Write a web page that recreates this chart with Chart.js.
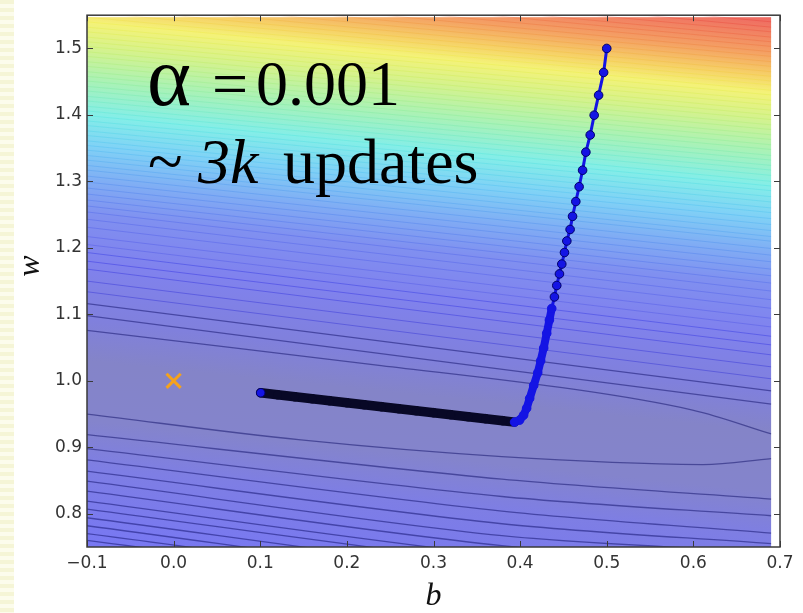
<!DOCTYPE html>
<html>
<head>
<meta charset="utf-8">
<script src="https://cdn.jsdelivr.net/npm/chart.js@4.4.0/dist/chart.umd.min.js"></script>
<style>
  html, body { margin: 0; padding: 0; background: #fff; }
  #wrap { position: relative; width: 803px; height: 613px; }
  #strip { position: absolute; left: 0; top: 0; width: 14px; height: 613px;
    background: repeating-linear-gradient(to bottom, #f5f5d6 0px, #f5f5d6 4px, #fcfcec 4px, #fcfcec 8px); }
  canvas { position: absolute; left: 0; top: 0; }
</style>
</head>
<body>
<div id="wrap"><div id="strip"></div><canvas id="myChart" width="803" height="613"></canvas></div>
<script>
// axes
const xTicks = [-0.1, 0.0, 0.1, 0.2, 0.3, 0.4, 0.5, 0.6, 0.7];
const xTickLabels = ["\u22120.1", "0.0", "0.1", "0.2", "0.3", "0.4", "0.5", "0.6", "0.7"];
const yTicks = [0.8, 0.9, 1.0, 1.1, 1.2, 1.3, 1.4, 1.5];
const yTickLabels = ["0.8", "0.9", "1.0", "1.1", "1.2", "1.3", "1.4", "1.5"];

// gradient descent path (b, w), start at (0.5, 1.5)
const pathB = [0.5, 0.4964, 0.4906, 0.4855, 0.4809, 0.4759, 0.4721, 0.4681, 0.4643, 0.4605,
  0.4577, 0.4539, 0.4512, 0.4481, 0.4454, 0.4423, 0.4396, 0.4365, 0.4338, 0.4307,
  0.4272, 0.4237, 0.4203, 0.4157, 0.411, 0.4075, 0.404, 0.3994, 0.3936,
  0.38, 0.36, 0.34, 0.32, 0.30, 0.28, 0.26, 0.24, 0.22, 0.20, 0.18, 0.16, 0.14, 0.12, 0.1005];
const pathW = [1.5, 1.4639, 1.4297, 1.3996, 1.3698, 1.344, 1.3168, 1.292, 1.2697, 1.2474,
  1.2277, 1.2103, 1.193, 1.1756, 1.1608, 1.1434, 1.1262, 1.1088, 1.0914, 1.0716,
  1.0493, 1.030, 1.012, 0.993, 0.9735, 0.9587, 0.9483, 0.9409, 0.9379,
  0.940, 0.943, 0.946, 0.949, 0.952, 0.955, 0.958, 0.961, 0.964, 0.967, 0.970, 0.973, 0.976, 0.979, 0.982];
const steepCount = 29;   // points before the path turns along the valley
const denseFrom = 17;    // from here the dots merge into one band

// true minimum
const minB = [0.0];
const minW = [1.0];

// filled contours: level colour read along the left edge (b = -0.1)
const fillLevelW = [1.66, 1.60, 1.565, 1.54, 1.50, 1.45, 1.40, 1.354, 1.30, 1.25, 1.18, 1.09, 1.03, 0.94, 0.87, 0.76, 0.68];
const fillColors = ["#ee6262", "#f4a064", "#f6d268", "#f4f278", "#d4f28e", "#a8f2b8", "#84eee8", "#80d2f6",
  "#80acf4", "#8090f0", "#8082ee", "#8080dc", "#8484c8", "#8484cc", "#7e7ee4", "#7878f2", "#7474f6"];
const fillTilt = 0.107;  // how much a level drops in w from b=-0.1 to b=0.69
const fillMaxB = 0.69;

// straight contour lines above the valley: w at b=-0.1 and at b=0.69
const lineEndB = [-0.1, 0.69];
const lineLeftW = [1.636, 1.629, 1.621, 1.614, 1.607, 1.599, 1.592, 1.584, 1.577, 1.569,
  1.562, 1.555, 1.547, 1.540, 1.532, 1.525, 1.517, 1.510, 1.503, 1.495,
  1.488, 1.480, 1.473, 1.465, 1.458, 1.451, 1.443, 1.436, 1.428, 1.421,
  1.413, 1.406, 1.399, 1.391, 1.384, 1.376, 1.369, 1.361, 1.354, 1.347,
  1.339, 1.332, 1.324, 1.317, 1.308, 1.299, 1.290, 1.281, 1.272, 1.263,
  1.254, 1.243, 1.231, 1.217, 1.205, 1.193, 1.180, 1.168, 1.150, 1.134, 1.116, 1.098];
const lineRightW = [1.540, 1.532, 1.525, 1.517, 1.510, 1.503, 1.495, 1.488, 1.480, 1.473,
  1.465, 1.458, 1.451, 1.445, 1.437, 1.430, 1.422, 1.415, 1.407, 1.400,
  1.393, 1.385, 1.378, 1.370, 1.363, 1.355, 1.348, 1.339, 1.332, 1.324,
  1.317, 1.309, 1.300, 1.293, 1.286, 1.277, 1.269, 1.260, 1.253, 1.244,
  1.235, 1.226, 1.217, 1.210, 1.199, 1.189, 1.179, 1.168, 1.158, 1.147,
  1.135, 1.122, 1.109, 1.094, 1.081, 1.067, 1.054, 1.039, 1.021, 1.003, 0.985, 0.965];

// innermost contour round the minimum
const innerUpperB = [-0.1, 0.2395, 0.463, 0.599, 0.69];
const innerUpperW = [1.076, 1.023, 0.987, 0.956, 0.920];
const innerLowerB = [-0.1, 0.147, 0.379, 0.610, 0.69];
const innerLowerW = [0.950, 0.911, 0.886, 0.874, 0.883];

// contour lines below the valley: w at b = -0.1, 0.379, 0.69
const lowerB = [-0.1, 0.379, 0.69];
const lowerW = [
  [0.919, 0.852, 0.822],
  [0.898, 0.826, 0.797],
  [0.881, 0.804, 0.771],
  [0.864, 0.785, 0.755],
  [0.849, 0.767, 0.742],
  [0.834, 0.752, 0.727],
  [0.819, 0.737, 0.708],
  [0.807, 0.725, 0.690],
  [0.794, 0.712, 0.680],
  [0.782, 0.700, 0.670],
  [0.770, 0.690, 0.660],
  [0.760, 0.680, 0.650]
];

const hexToRgb = (h) => [parseInt(h.slice(1, 3), 16), parseInt(h.slice(3, 5), 16), parseInt(h.slice(5, 7), 16)];

const fillRgbAt = (w) => {
  if (w >= fillLevelW[0]) return hexToRgb(fillColors[0]);
  for (let i = 0; i < fillLevelW.length - 1; i++) {
    if (w <= fillLevelW[i] && w >= fillLevelW[i + 1]) {
      const t = (fillLevelW[i] - w) / (fillLevelW[i] - fillLevelW[i + 1]);
      const a = hexToRgb(fillColors[i]);
      const b = hexToRgb(fillColors[i + 1]);
      return a.map((v, k) => v + (b[k] - v) * t);
    }
  }
  return hexToRgb(fillColors[fillColors.length - 1]);
};

// contour stroke: the full-strength colour of the level, mostly see-through
const upperLineColor = (w) => {
  const c = fillRgbAt(w).map((v) => Math.max(0, Math.round(2 * v - 255)));
  const a = w > 1.2 ? 0.17 : 0.28;
  return "rgba(" + c.join(",") + "," + a + ")";
};
const lowLineColor = "rgba(0,0,90,0.45)";

const toPoints = (bs, ws) => bs.map((b, i) => ({ x: b, y: ws[i] }));

const contourSets = [];
lineLeftW.forEach((lw, i) => {
  contourSets.push({
    data: toPoints(lineEndB, [lw, lineRightW[i]]),
    borderColor: lw < 1.12 ? lowLineColor : upperLineColor(lw),
    borderWidth: lw < 1.12 ? 1.2 : 1, pointRadius: 0, showLine: true, order: 5
  });
});
[[innerUpperB, innerUpperW], [innerLowerB, innerLowerW]].forEach(([bs, ws]) => {
  contourSets.push({
    data: toPoints(bs, ws), borderColor: lowLineColor, borderWidth: 1.3,
    pointRadius: 0, showLine: true, tension: 0.35, order: 5
  });
});
lowerW.forEach((ws) => {
  contourSets.push({
    data: toPoints(lowerB, ws), borderColor: lowLineColor, borderWidth: 1.3,
    pointRadius: 0, showLine: true, tension: 0.3, order: 5
  });
});

const pathBlue = "#1414e4";
const pathEdge = "#00006a";
const pathDark = "#080826";
const lastIdx = pathB.length - 1;

const pathSet = {
  data: toPoints(pathB, pathW),
  showLine: true,
  order: 1,
  borderColor: pathBlue,
  borderWidth: 3,
  borderCapStyle: "round",
  borderJoinStyle: "round",
  segment: {
    borderColor: (c) => (c.p0DataIndex >= steepCount - 1 ? pathDark : pathBlue),
    borderWidth: (c) => (c.p0DataIndex >= steepCount - 1 ? 9.5 : (c.p0DataIndex >= denseFrom ? 8 : 3))
  },
  pointRadius: 4.3,
  pointBorderWidth: 1,
  pointBackgroundColor: (c) => (c.dataIndex < steepCount || c.dataIndex === lastIdx ? pathBlue : pathDark),
  pointBorderColor: (c) => {
    const i = c.dataIndex;
    if (i === lastIdx) return pathEdge;
    if (i >= steepCount) return pathDark;
    return i >= denseFrom ? pathBlue : pathEdge;
  }
};

const minSet = {
  data: toPoints(minB, minW),
  order: 0,
  pointStyle: "crossRot",
  pointRadius: 10,
  pointBorderWidth: 3,
  pointBorderColor: "#f5a21c",
  pointBackgroundColor: "#f5a21c"
};

const contourFill = {
  id: "contourFill",
  beforeDatasetsDraw(chart) {
    const { ctx, chartArea, scales: { x, y } } = chart;
    const x0 = x.getPixelForValue(-0.1);
    const x1 = x.getPixelForValue(fillMaxB);
    const yTop = y.getPixelForValue(fillLevelW[0]);
    const yBot = y.getPixelForValue(fillLevelW[fillLevelW.length - 1]);
    const dx = x1 - x0;
    const dy = y.getPixelForValue(1 - fillTilt) - y.getPixelForValue(1);
    const len = Math.hypot(dx, dy);
    const nx = -dy / len;
    const ny = dx / len;
    const L = (yBot - yTop) * dx / len;
    const g = ctx.createLinearGradient(x0, yTop, x0 + nx * L, yTop + ny * L);
    fillLevelW.forEach((w, i) => {
      g.addColorStop((y.getPixelForValue(w) - yTop) / (yBot - yTop), fillColors[i]);
    });
    ctx.save();
    ctx.fillStyle = g;
    ctx.fillRect(x0, chartArea.top + 2, x1 - x0, chartArea.bottom - chartArea.top - 2);
    ctx.restore();
  }
};

const frameAndText = {
  id: "frameAndText",
  afterDatasetsDraw(chart) {
    const { ctx, chartArea: a, scales: { x, y } } = chart;
    ctx.save();
    // white strip the fill does not reach
    ctx.fillStyle = "#fff";
    const xr = x.getPixelForValue(fillMaxB);
    ctx.fillRect(xr, a.top, a.right - xr, a.bottom - a.top);
    ctx.strokeStyle = "#3a3a3a";
    ctx.lineWidth = 1.5;
    ctx.strokeRect(a.left, a.top, a.right - a.left, a.bottom - a.top);
    ctx.lineWidth = 1;
    ctx.beginPath();
    xTicks.forEach((v) => {
      const px = Math.round(x.getPixelForValue(v)) + 0.5;
      ctx.moveTo(px, a.bottom); ctx.lineTo(px, a.bottom - 6);
      ctx.moveTo(px, a.top); ctx.lineTo(px, a.top + 6);
    });
    yTicks.forEach((v) => {
      const py = Math.round(y.getPixelForValue(v)) + 0.5;
      ctx.moveTo(a.left, py); ctx.lineTo(a.left + 6, py);
      ctx.moveTo(a.right, py); ctx.lineTo(a.right - 6, py);
    });
    ctx.stroke();

    // axis name w
    ctx.fillStyle = "#111";
    ctx.font = 'italic 32px "Liberation Serif"';
    ctx.textAlign = "center";
    ctx.textBaseline = "middle";
    ctx.translate(31, 266);
    ctx.rotate(-Math.PI / 2);
    ctx.fillText("w", 0, 0);
    ctx.setTransform(1, 0, 0, 1, 0, 0);

    // learning rate note
    ctx.fillStyle = "#000";
    ctx.textAlign = "left";
    ctx.textBaseline = "alphabetic";
    ctx.font = '84px "Liberation Serif"';
    ctx.fillText("\u03b1", 147, 105);
    ctx.font = '64px "Liberation Serif"';
    ctx.fillText("=", 212, 105);
    ctx.fillText("0.001", 256, 105);
    ctx.fillText("~", 148, 183);
    ctx.font = 'italic 64px "Liberation Serif"';
    ctx.fillText("3k", 198, 183);
    ctx.font = '64px "Liberation Serif"';
    ctx.fillText("updates", 283, 183);
    ctx.restore();
  }
};

const tickFont = { family: "DejaVu Sans", size: 17 };

new Chart(document.getElementById("myChart"), {
  type: "scatter",
  data: { datasets: [minSet, pathSet, ...contourSets] },
  options: {
    responsive: false,
    animation: false,
    devicePixelRatio: 1,
    layout: { padding: { top: 9, right: 23, bottom: 0, left: 0 }, autoPadding: false },
    plugins: { legend: { display: false }, tooltip: { enabled: false } },
    scales: {
      x: {
        type: "linear", min: -0.1, max: 0.7,
        afterBuildTicks: (s) => { s.ticks = xTicks.map((v) => ({ value: v })); },
        afterFit: (s) => { s.height = 66; },
        grid: { display: false, drawTicks: false },
        border: { display: false },
        ticks: { font: tickFont, color: "#333", padding: 6, maxRotation: 0, autoSkip: false,
          callback: (v, i) => xTickLabels[i] },
        title: { display: true, text: "b", color: "#111", padding: { top: 0, bottom: 0 },
          font: { family: "Liberation Serif", size: 32, style: "italic", lineHeight: 1.0 } }
      },
      y: {
        type: "linear", min: 0.75, max: 1.55,
        afterBuildTicks: (s) => { s.ticks = yTicks.map((v) => ({ value: v })); },
        afterFit: (s) => { s.width = 87; },
        grid: { display: false, drawTicks: false },
        border: { display: false },
        ticks: { font: tickFont, color: "#333", padding: 5, autoSkip: false,
          callback: (v, i) => yTickLabels[i] },
        title: { display: false }
      }
    }
  },
  plugins: [contourFill, frameAndText]
});
</script>
</body>
</html>
